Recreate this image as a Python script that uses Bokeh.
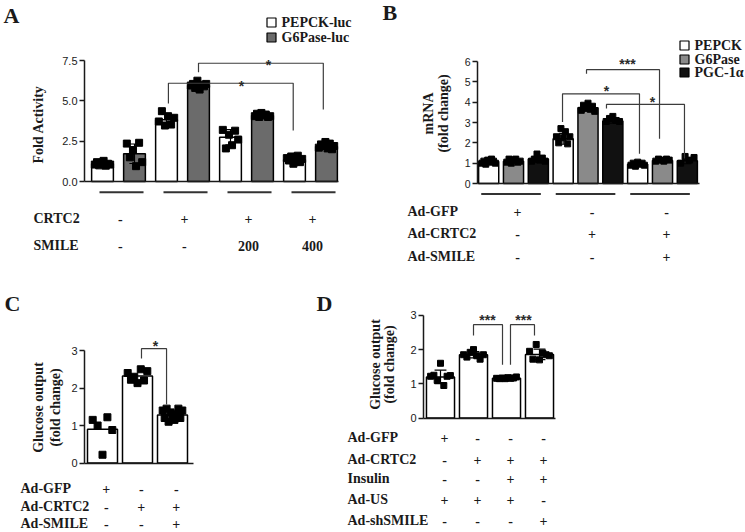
import numpy as np
from bokeh.plotting import figure
from bokeh.models import Range1d, LinearAxis, FixedTicker, NumeralTickFormatter
from bokeh.layouts import column, row
from bokeh.embed import file_html
from bokeh.resources import INLINE
from bokeh.core.properties import value

SERIF = value("Liberation Serif")
SANS = value("Liberation Sans")
INK = "#1a1a1a"
LINE = "#3c3c3c"

# ---------------- Panel A data ----------------
a_crtc2 = ["-", "+", "+", "+"]
a_smile = ["-", "-", "200", "400"]
a_pepck = [1.10, 3.83, 2.75, 1.35]
a_g6pase = [1.72, 5.95, 4.09, 2.17]
a_pepck_pts = [
    [1.05, 1.20, 1.00, 1.15, 1.28, 0.98, 1.10, 1.05],
    [3.72, 4.36, 3.47, 4.05, 3.53, 3.95],
    [3.20, 2.05, 2.90, 2.25, 3.15, 2.60],
    [1.45, 1.30, 1.55, 1.10, 1.25, 1.60, 1.20, 1.40],
]
a_g6pase_pts = [
    [2.35, 1.50, 1.95, 0.95, 2.40, 1.20],
    [5.95, 6.05, 5.80, 6.25, 5.70, 6.00, 5.90, 6.05],
    [4.05, 4.20, 4.00, 4.25, 4.10, 4.15, 4.00, 4.05],
    [2.10, 2.30, 2.20, 2.45, 2.05, 2.35, 2.00, 2.20],
]
a_yticks = [0.0, 2.5, 5.0, 7.5]

# ---------------- Panel B data ----------------
b_gfp = ["+", "-", "-"]
b_crtc2 = ["-", "+", "+"]
b_smile = ["-", "-", "+"]
b_pepck = [1.08, 2.20, 0.95]
b_g6pase = [1.10, 3.72, 1.13]
b_pgc = [1.20, 3.08, 1.12]
b_pepck_pts = [
    [1.00, 1.10, 0.95, 1.15, 1.05, 1.20, 1.10, 1.00],
    [2.30, 2.00, 2.70, 2.25, 2.55, 1.95, 2.30],
    [0.90, 1.00, 0.85, 1.05, 0.95, 1.00, 0.90],
]
b_g6pase_pts = [
    [1.05, 1.20, 1.00, 1.15, 1.20, 1.05, 1.10],
    [3.60, 3.85, 3.70, 3.95, 3.65, 3.80, 3.55],
    [1.10, 1.20, 1.15, 1.10, 1.20, 1.15],
]
b_pgc_pts = [
    [1.10, 1.20, 1.45, 1.15, 1.25, 1.10],
    [3.05, 3.20, 3.30, 3.10, 3.05],
    [1.00, 1.33, 1.15, 1.28],
]
b_yticks = [0, 1, 2, 3, 4, 5, 6]

# ---------------- Panel C data ----------------
c_gfp = ["+", "-", "-"]
c_crtc2 = ["-", "+", "+"]
c_smile = ["-", "-", "+"]
c_glucose = [0.90, 2.32, 1.28]
c_pts = [
    [1.15, 1.00, 0.22, 1.22, 0.88],
    [2.40, 2.22, 2.30, 2.13, 2.50, 2.20, 2.45],
    [1.40, 1.20, 1.45, 1.10, 1.35, 1.25, 1.15, 1.30, 1.45, 1.20, 1.40],
]
c_yticks = [0, 1, 2, 3]

# ---------------- Panel D data ----------------
d_gfp = ["+", "-", "-", "-"]
d_crtc2 = ["-", "+", "+", "+"]
d_insulin = ["-", "-", "+", "+"]
d_us = ["+", "+", "+", "-"]
d_shsmile = ["-", "-", "-", "+"]
d_glucose = [1.20, 1.85, 1.16, 1.86]
d_pts = [
    [1.22, 1.25, 1.10, 1.60, 0.95, 1.22, 1.24],
    [1.85, 1.78, 1.92, 2.00, 1.82, 1.72, 1.85],
    [1.16, 1.15, 1.17, 1.15, 1.18, 1.16, 1.17, 1.20],
    [1.95, 1.72, 2.15, 1.70, 1.90, 1.85, 1.82],
]
d_yticks = [0, 1, 2, 3]


# ---------------- helpers ----------------
def make_panel(sx0, sy0, W, H, x_px0, x_ppu, y_px0, y_ppu):
    X = lambda sx: (sx - x_px0) / x_ppu
    Y = lambda sy: (y_px0 - sy) / y_ppu
    p = figure(width=W, height=H,
               x_range=Range1d(X(sx0), X(sx0 + W)),
               y_range=Range1d(Y(sy0 + H), Y(sy0)),
               toolbar_location=None, output_backend="svg",
               x_axis_location=None, y_axis_location=None, min_border=0,
               outline_line_color=None, background_fill_color="white",
               border_fill_color="white")
    p.grid.visible = False
    return p, X, Y


def add_axes(p, xloc, ymax, ticks, fmt, x_end, tick_size="11px"):
    yax = LinearAxis(fixed_location=xloc, bounds=(0, ymax),
                     ticker=FixedTicker(ticks=ticks),
                     formatter=NumeralTickFormatter(format=fmt))
    yax.major_tick_out = 5
    yax.major_tick_in = 0
    yax.minor_tick_out = 0
    yax.minor_tick_in = 0
    yax.axis_line_width = 1.5
    yax.axis_line_color = INK
    yax.major_tick_line_color = INK
    yax.major_tick_line_width = 1.5
    yax.major_label_text_font = "Liberation Sans"
    yax.major_label_text_font_size = tick_size
    yax.major_label_text_color = INK
    yax.major_label_standoff = 2
    p.add_layout(yax, "left")
    xax = LinearAxis(fixed_location=0, bounds=(xloc, x_end),
                     ticker=FixedTicker(ticks=[]))
    xax.major_tick_out = 0
    xax.major_tick_in = 0
    xax.minor_tick_out = 0
    xax.minor_tick_in = 0
    xax.major_label_text_font_size = "0px"
    xax.axis_line_width = 1.5
    xax.axis_line_color = INK
    p.add_layout(xax, "below")


def draw_bars(p, xs, heights, pts, width, color, pt_size, spread, cap,
              errors=True):
    p.vbar(x=xs, top=heights, width=width, bottom=0, fill_color=color,
           line_color="black", line_width=1.5)
    if errors:
        sds = [float(np.std(v, ddof=1)) for v in pts]
        lo = [h - s for h, s in zip(heights, sds)]
        hi = [h + s for h, s in zip(heights, sds)]
        p.segment(x0=xs, y0=lo, x1=xs, y1=hi, line_color="black",
                  line_width=1.2)
        xl = [x - cap for x in xs]
        xr = [x + cap for x in xs]
        p.segment(x0=xl, y0=hi, x1=xr, y1=hi, line_color="black",
                  line_width=1.2)
        p.segment(x0=xl, y0=lo, x1=xr, y1=lo, line_color="black",
                  line_width=1.2)
    px, py = [], []
    for x, v in zip(xs, pts):
        offs = np.linspace(-spread, spread, len(v))
        px += list(x + offs)
        py += list(v)
    p.scatter(px, py, marker="square", size=pt_size, fill_color="black",
              line_color="black")


def txt(p, xs, ys, texts, size="14px", align="center", baseline="middle",
        font=SERIF, bold=True, angle=0.0, color=INK):
    p.text(x=xs, y=ys, text=texts, text_font=font,
           text_font_style="bold" if bold else "normal",
           text_font_size=size, text_align=align, text_baseline=baseline,
           angle=angle, text_color=color)


def bracket(p, Y, xl, xr, ytop, yl, yr, label, lx, ly_px):
    p.line([xl, xl, xr, xr], [yl, ytop, ytop, yr], line_color=LINE,
           line_width=1.2)
    txt(p, [lx], [Y(ly_px + 8)], [label], size="14px", font=SANS, bold=True,
        baseline="alphabetic", color="#2a2a2a")


def table(p, X, Y, label_px, row_px, names, rows, xs):
    txt(p, [X(label_px)] * len(names), [Y(r) for r in row_px], names,
        align="left")
    for r, vals in zip(row_px, rows):
        txt(p, xs, [Y(r)] * len(xs), vals)


def legend(p, X, Y, sq_px, txt_px, rows_px, names, colors, size=9):
    p.scatter([X(sq_px)] * len(names), [Y(r) for r in rows_px],
              marker="square", size=size, fill_color=colors,
              line_color="black", line_width=1.2)
    txt(p, [X(txt_px)] * len(names), [Y(r) for r in rows_px], names,
        align="left")


# ================= Panel A =================
pa, XA, YA = make_panel(0, 0, 376, 278, 118, 64.0, 181, 16.13)
ga = np.arange(len(a_pepck))
xa_p = list(ga - 0.25)
xa_g = list(ga + 0.25)
add_axes(pa, XA(84), 7.5, a_yticks, "0.0", xa_g[-1] + 0.19)
draw_bars(pa, xa_p, a_pepck, a_pepck_pts, 0.34, "white", 7, 0.12, 0.08)
draw_bars(pa, xa_g, a_g6pase, a_g6pase_pts, 0.34, "#6b6b6b", 7, 0.12, 0.08)
pa.segment(x0=list(ga + 0.047 - 0.344), y0=[YA(191.7)] * len(ga),
           x1=list(ga + 0.047 + 0.344), y1=[YA(191.7)] * len(ga),
           line_color="#333333", line_width=2)
table(pa, XA, YA, 33, [218, 245], ["CRTC2", "SMILE"], [a_crtc2, a_smile],
      list(ga + 0.03))
txt(pa, [XA(38)], [YA(124)], ["Fold Activity"], angle=np.pi / 2)
txt(pa, [XA(3)], [YA(15)], ["A"], size="22px", align="left")
legend(pa, XA, YA, 271, 281, [22, 37], ["PEPCK-luc", "G6Pase-luc"],
       ["white", "#6b6b6b"])
bracket(pa, YA, xa_g[1], 3.2, 7.33, 6.78, 4.46, "*", XA(268), 56)
bracket(pa, YA, 0.78, 2.73, 6.09, 4.84, 3.16, "*", XA(241), 77)

# ================= Panel B =================
pb, XB, YB = make_panel(376, 0, 369, 278, 513, 74.5, 183, 20.33)
gb = np.arange(len(b_pepck))
xb_1 = list(gb - 1 / 3)
xb_2 = list(gb + 0.0)
xb_3 = list(gb + 1 / 3)
add_axes(pb, XB(477), 6, b_yticks, "0", xb_3[-1] + 0.16, tick_size="10.5px")
draw_bars(pb, xb_1, b_pepck, b_pepck_pts, 0.27, "white", 6, 0.09, 0.055)
draw_bars(pb, xb_2, b_g6pase, b_g6pase_pts, 0.27, "#8a8a8a", 6, 0.09, 0.055)
draw_bars(pb, xb_3, b_pgc, b_pgc_pts, 0.27, "#111111", 6, 0.09, 0.055)
pb.segment(x0=list(gb - 0.033 - 0.4), y0=[YB(193.5)] * len(gb),
           x1=list(gb - 0.033 + 0.4), y1=[YB(193.5)] * len(gb),
           line_color="#333333", line_width=2)
table(pb, XB, YB, 407, [211, 233, 256], ["Ad-GFP", "Ad-CRTC2", "Ad-SMILE"],
      [b_gfp, b_crtc2, b_smile], list(gb + 0.054))
txt(pb, [XB(428)], [YB(113)], ["mRNA"], angle=np.pi / 2)
txt(pb, [XB(443)], [YB(113)], ["(fold change)"], angle=np.pi / 2)
txt(pb, [XB(382)], [YB(12)], ["B"], size="22px", align="left")
legend(pb, XB, YB, 684, 694, [45, 59, 72], ["PEPCK", "G6Pase", "PGC-1α"],
       ["white", "#8a8a8a", "#111111"])
bracket(pb, YB, 0.98, 1.96, 5.6, 5.4, 2.2, "***", XB(627), 55)
bracket(pb, YB, 0.658, 1.691, 4.41, 3.02, 1.46, "*", XB(606), 82)
bracket(pb, YB, 1.248, 2.295, 3.89, 3.69, 1.23, "*", XB(652), 93)

# ================= Panel C =================
pc, XC, YC = make_panel(0, 278, 300, 254, 102, 35.0, 462.5, 37.5)
xc = list(np.arange(len(c_glucose)) * 1.0)
add_axes(pc, XC(84), 3, c_yticks, "0", xc[-1] + 0.43 + 0.17)
draw_bars(pc, xc, c_glucose, c_pts, 0.857, "white", 7, 0.28, 0.17,
          errors=False)
table(pc, XC, YC, 20, [488, 506, 523], ["Ad-GFP", "Ad-CRTC2", "Ad-SMILE"],
      [c_gfp, c_crtc2, c_smile], [x + 0.11 for x in xc])
txt(pc, [XC(38)], [YC(407)], ["Glucose output"], angle=np.pi / 2)
txt(pc, [XC(55)], [YC(407)], ["(fold change)"], angle=np.pi / 2)
txt(pc, [XC(4)], [YC(303)], ["C"], size="22px", align="left")
bracket(pc, YC, 1.114, 1.83, 3.05, 2.79, 1.56, "*", XC(155), 337)

# ================= Panel D =================
pd_, XD, YD = make_panel(300, 278, 445, 254, 440, 33.0, 417.5, 34.2)
xd = list(np.arange(len(d_glucose)) * 1.0)
add_axes(pd_, XD(423), 3, d_yticks, "0", xd[-1] + 0.425 + 0.06)
draw_bars(pd_, xd, d_glucose, d_pts, 0.85, "white", 6, 0.3, 0.18)
table(pd_, XD, YD, 347, [437, 459, 478, 499, 520],
      ["Ad-GFP", "Ad-CRTC2", "Insulin", "Ad-US", "Ad-shSMILE"],
      [d_gfp, d_crtc2, d_insulin, d_us, d_shsmile], [x + 0.12 for x in xd])
txt(pd_, [XD(375)], [YD(364)], ["Glucose output"], angle=np.pi / 2)
txt(pd_, [XD(389)], [YD(364)], ["(fold change)"], angle=np.pi / 2)
txt(pd_, [XD(316)], [YD(303)], ["D"], size="22px", align="left")
bracket(pd_, YD, 1.0, 1.879, 2.73, 2.41, 1.56, "***", XD(487), 311)
bracket(pd_, YD, 2.121, 2.848, 2.73, 1.56, 2.41, "***", XD(523), 311)

layout = column(row(pa, pb, spacing=0), row(pc, pd_, spacing=0), spacing=0)
open("out.html", "w").write(file_html(layout, INLINE))
